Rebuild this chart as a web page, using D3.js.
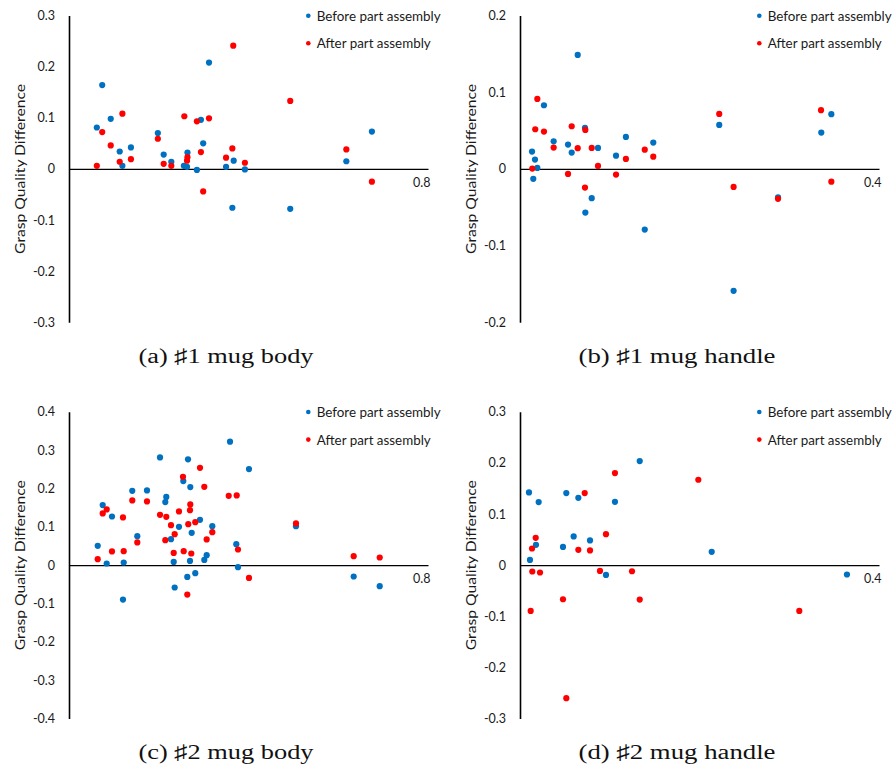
<!DOCTYPE html>
<html>
<head>
<meta charset="utf-8">
<script src="https://cdn.jsdelivr.net/npm/d3@7"></script>
<style>
  html, body { margin: 0; padding: 0; background: #fff; }
  svg { display: block; }
</style>
</head>
<body>
<div id="chart"></div>
<script>
// ---------------- DATA ----------------
const seriesNames = ["Before part assembly", "After part assembly"];
const captions = ["(a) \u266F1 mug body", "(b) \u266F1 mug handle", "(c) \u266F2 mug body", "(d) \u266F2 mug handle"];
const yTitle = "Grasp Quality Difference";

const aYTicks = [-0.3, -0.2, -0.1, 0, 0.1, 0.2, 0.3];
const bYTicks = [-0.2, -0.1, 0, 0.1, 0.2];
const cYTicks = [-0.4, -0.3, -0.2, -0.1, 0, 0.1, 0.2, 0.3, 0.4];
const dYTicks = [-0.3, -0.2, -0.1, 0, 0.1, 0.2, 0.3];
const aXMax = 0.8, bXMax = 0.4, cXMax = 0.8, dXMax = 0.4;

// (a) #1 mug body  [x, y]
const aBefore = [[0.062,0.081],[0.074,0.164],[0.093,0.098],[0.113,0.034],[0.119,0.006],[0.138,0.042],
  [0.198,0.070],[0.211,0.028],[0.228,0.014],[0.256,0.006],[0.264,0.032],[0.263,0.004],[0.285,-0.002],
  [0.294,0.096],[0.299,0.050],[0.312,0.208],[0.350,0.004],[0.367,0.016],[0.392,-0.001],[0.618,0.015],
  [0.675,0.073],[0.364,-0.076],[0.493,-0.078]];
const aAfter = [[0.062,0.006],[0.074,0.072],[0.093,0.046],[0.113,0.014],[0.119,0.108],[0.138,0.019],
  [0.198,0.059],[0.211,0.010],[0.228,0.006],[0.257,0.103],[0.264,0.023],[0.263,0.016],[0.285,0.093],
  [0.294,0.033],[0.312,0.099],[0.299,-0.044],[0.350,0.022],[0.366,0.241],[0.364,0.040],[0.392,0.012],
  [0.493,0.133],[0.618,0.038],[0.675,-0.025]];

// (b) #1 mug handle
const bBefore = [[0.0134,0.0226],[0.0167,0.0121],[0.0193,0.0013],[0.0148,-0.013],[0.0267,0.083],
  [0.0375,0.036],[0.0535,0.0317],[0.0576,0.0213],[0.0643,0.1486],[0.0724,0.0535],[0.0869,0.0274],
  [0.107,0.0173],[0.118,0.0417],[0.1485,0.0343],[0.0799,-0.0382],[0.0728,-0.057],[0.139,-0.0791],
  [0.238,-0.159],[0.2875,-0.0371],[0.222,0.0573],[0.3357,0.0473],[0.3469,0.0713]];
const bAfter = [[0.0137,0.0004],[0.0193,0.0912],[0.0170,0.0517],[0.0267,0.0486],[0.0375,0.0278],
  [0.0535,-0.0065],[0.0576,0.0556],[0.0643,0.027],[0.0728,0.0508],[0.0724,-0.0244],[0.0799,0.0274],
  [0.0869,0.0039],[0.107,-0.0074],[0.118,0.013],[0.139,0.0251],[0.1485,0.016],[0.222,0.0717],
  [0.238,-0.0235],[0.3354,0.0765],[0.3469,-0.0166],[0.2875,-0.039]];

// (c) #2 mug body
const cBefore = [[0.064,0.0504],[0.0751,0.1567],[0.084,0.0044],[0.0958,0.127],[0.1219,0.007],
  [0.141,0.194],[0.1522,0.0757],[0.1738,0.195],[0.2028,0.281],[0.2146,0.1645],[0.2168,0.178],
  [0.2273,0.0679],[0.2333,0.0086],[0.2451,0.1],[0.2355,-0.0582],[0.2547,0.2193],[0.2652,0.276],
  [0.2703,0.2037],[0.2696,0.0112],[0.2734,0.0843],[0.2636,-0.0305],[0.2814,-0.0209],[0.2919,0.1183],
  [0.3015,0.0138],[0.3068,0.0261],[0.3193,0.1018],[0.3588,0.322],[0.4011,0.2507],[0.3728,0.0548],
  [0.3766,-0.0052],[0.5058,0.1018],[0.6344,-0.0295],[0.6924,-0.0548],[0.1203,-0.0896]];
const cAfter = [[0.064,0.0157],[0.0751,0.135],[0.084,0.1454],[0.0958,0.0358],[0.1219,0.0366],
  [0.1203,0.1245],[0.141,0.1689],[0.1522,0.0593],[0.1738,0.1663],[0.2028,0.1313],[0.2168,0.1261],
  [0.2146,0.0653],[0.2273,0.1044],[0.2333,0.0321],[0.2355,0.0809],[0.2451,0.1402],[0.254,0.2305],
  [0.2556,0.0366],[0.2658,0.107],[0.2703,0.1585],[0.2696,0.1436],[0.2725,0.0305],[0.2814,0.1123],
  [0.2919,0.254],[0.3015,0.2044],[0.3068,0.0671],[0.3193,0.0862],[0.3559,0.1809],[0.3737,0.182],
  [0.3766,0.041],[0.4011,-0.0332],[0.5058,0.1089],[0.6344,0.0235],[0.6924,0.0201],[0.2636,-0.0765]];

// (d) #2 mug handle
const dBefore = [[0.01,0.1424],[0.0111,0.0104],[0.0178,0.0398],[0.0208,0.1234],[0.0479,0.0358],
  [0.0516,0.141],[0.0598,0.0562],[0.065,0.1318],[0.078,0.0484],[0.0958,-0.019],[0.1058,0.124],
  [0.1334,0.2037],[0.2136,0.0261],[0.3643,-0.0182]];
const dAfter = [[0.0134,0.0327],[0.0175,0.0535],[0.0137,-0.0123],[0.0223,-0.0143],[0.065,0.03],
  [0.0721,0.141],[0.078,0.0288],[0.0958,0.0607],[0.0891,-0.0112],[0.1058,0.1802],[0.1248,-0.0118],
  [0.1987,0.1671],[0.0119,-0.0895],[0.0479,-0.0666],[0.0516,-0.26],[0.1334,-0.0672],[0.3112,-0.0895]];

// ---------------- STYLE / LAYOUT ----------------
const W = 894, H = 770;
const COLORS = ["#0070C0", "#FF0000"];
const SANS = "Lato, 'Open Sans', 'Liberation Sans', sans-serif";
const SERIF = "'Liberation Serif', 'DejaVu Serif', serif";
const legendWidths = [124, 114];

const panels = [
  { before: aBefore, after: aAfter, yTicks: aYTicks, xMax: aXMax, caption: captions[0],
    ox: 0, oy: 0, capW: 175 },
  { before: bBefore, after: bAfter, yTicks: bYTicks, xMax: bXMax, caption: captions[1],
    ox: 451, oy: 0, capW: 197 },
  { before: cBefore, after: cAfter, yTicks: cYTicks, xMax: cXMax, caption: captions[2],
    ox: 0, oy: 396.3, capW: 175 },
  { before: dBefore, after: dAfter, yTicks: dYTicks, xMax: dXMax, caption: captions[3],
    ox: 451, oy: 396.3, capW: 197 }
];

const svg = d3.select("#chart").append("svg").attr("width", W).attr("height", H);

const fmt = d => d === 0 ? "0" : String(+d.toFixed(1));

panels.forEach(p => {
  const g = svg.append("g").attr("transform", `translate(${p.ox},${p.oy})`);
  const axisX = 69, xRight = 428, yTop = 15.5, yBottom = 322.3;
  const yExt = d3.extent(p.yTicks);
  const x = d3.scaleLinear().domain([0, p.xMax]).range([axisX, xRight]);
  const y = d3.scaleLinear().domain(yExt).range([yBottom, yTop]);

  // Y axis
  const ya = g.append("g").attr("transform", `translate(${axisX},0)`)
    .call(d3.axisLeft(y).tickValues(p.yTicks).tickSize(0).tickSizeOuter(0).tickPadding(14).tickFormat(fmt));
  ya.select(".domain").attr("stroke", "#000").attr("stroke-width", 1.6);
  ya.selectAll("text").attr("font-family", SANS).attr("font-size", 12.5).attr("fill", "#1a1a1a");

  // X axis at y = 0
  const xa = g.append("g").attr("transform", `translate(0,${y(0)})`)
    .call(d3.axisBottom(x).tickValues([p.xMax]).tickSize(0).tickSizeOuter(0).tickPadding(9).tickFormat(fmt));
  xa.select(".domain").attr("stroke", "#000").attr("stroke-width", 1.3);
  xa.selectAll("text").attr("font-family", SANS).attr("font-size", 12.5).attr("fill", "#1a1a1a")
    .attr("text-anchor", "end").attr("dx", 2);

  // Y title
  g.append("text")
    .attr("transform", `translate(19,${(yTop + yBottom) / 2}) rotate(-90)`)
    .attr("text-anchor", "middle").attr("dominant-baseline", "central")
    .attr("font-family", SANS).attr("font-size", 14).attr("fill", "#1a1a1a")
    .attr("textLength", 170).attr("lengthAdjust", "spacingAndGlyphs")
    .text(yTitle);

  // Points: before (blue), then after (red) on top
  [p.before, p.after].forEach((data, i) => {
    g.append("g").selectAll("circle").data(data).join("circle")
      .attr("cx", d => x(d[0])).attr("cy", d => y(d[1]))
      .attr("r", 3.1).attr("fill", COLORS[i]);
  });

  // Legend
  const lg = g.append("g");
  seriesNames.forEach((name, i) => {
    const ly = 15.7 + i * 27.6;
    lg.append("circle").attr("cx", 308.3).attr("cy", ly).attr("r", 2.3).attr("fill", COLORS[i]);
    lg.append("text").attr("x", 316.7).attr("y", ly)
      .attr("dominant-baseline", "central")
      .attr("font-family", SANS).attr("font-size", 13).attr("fill", "#1a1a1a")
      .attr("textLength", legendWidths[i]).attr("lengthAdjust", "spacingAndGlyphs")
      .text(name);
  });

  // Caption
  g.append("text")
    .attr("x", 226).attr("y", 363)
    .attr("text-anchor", "middle")
    .attr("font-family", SERIF).attr("font-size", 20.5).attr("fill", "#111")
    .attr("textLength", p.capW).attr("lengthAdjust", "spacingAndGlyphs")
    .text(p.caption);
});
</script>
</body>
</html>
